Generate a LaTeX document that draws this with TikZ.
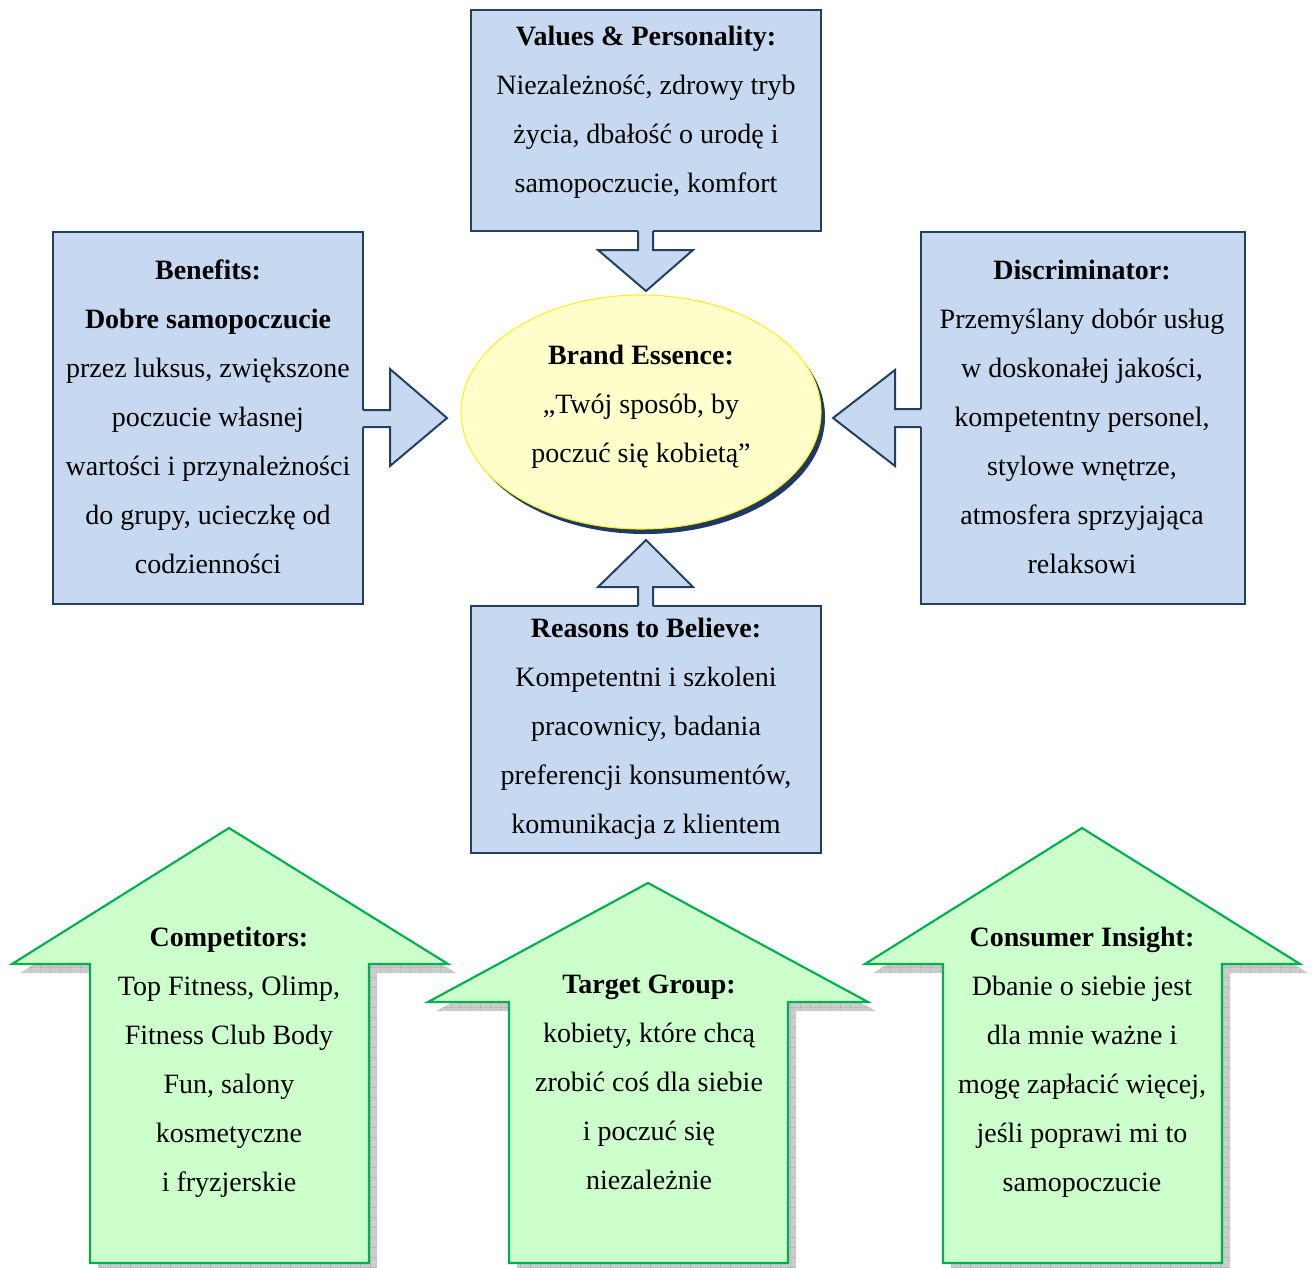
\documentclass[tikz,border=0pt]{standalone}
\usepackage{fontspec}
\setmainfont{Liberation Serif}
\usetikzlibrary{patterns.meta,shapes.geometric}
\definecolor{bluefill}{RGB}{198,217,241}
\definecolor{blueline}{RGB}{36,64,97}
\definecolor{greenfill}{RGB}{204,255,204}
\definecolor{greenline}{RGB}{0,176,80}
\definecolor{ellfill}{RGB}{255,255,204}
\definecolor{ellline}{RGB}{250,240,30}
\definecolor{ellshadow}{RGB}{31,56,100}
\tikzdeclarepattern{
  name=shgrid, type=uncolored,
  bottom left={(0pt,0pt)}, top right={(7.5pt,7.5pt)},
  tile size={(7.5pt,7.5pt)},
  code={\draw[line width=0.8pt] (0pt,0pt)--(7.5pt,0pt) (0pt,0pt)--(0pt,7.5pt);}
}
\begin{document}
\begin{tikzpicture}[x=0.75pt,y=-0.75pt,
  bluebox/.style={draw=blueline,fill=bluefill,line width=1.5pt,inner sep=0pt},
  blueshape/.style={fill=bluefill},
  blueedge/.style={draw=blueline,line width=1.5pt,line join=miter},
  greenshape/.style={draw=greenline,fill=greenfill,line width=1.6pt,line join=miter},
  shadowshape/.style={preaction={fill=gray!40},pattern=shgrid,pattern color=gray!80},
  txt/.style={align=center,inner sep=0pt,font=\fontsize{21pt}{36.75pt}\selectfont}]
\useasboundingbox (0,0) rectangle (1312,1267);

% ---------- blue boxes ----------
\node[bluebox,minimum width=262.5pt,minimum height=165.75pt] (values) at (646,120.5) {};
\node[bluebox,minimum width=232.5pt,minimum height=279pt] (benefits) at (208,418) {};
\node[bluebox,minimum width=243pt,minimum height=279pt] (discr) at (1083,418) {};
\node[bluebox,minimum width=262.5pt,minimum height=185.25pt] (reasons) at (646,729.5) {};

% ---------- blue block arrows ----------
% down arrow from Values
\fill[blueshape] (638,229)--(638,250)--(598,250)--(646,291)--(693,250)--(653,250)--(653,229)--cycle;
\draw[blueedge] (638,231)--(638,250)--(598,250)--(646,291)--(693,250)--(653,250)--(653,231);
% right arrow from Benefits
\fill[blueshape] (361,410)--(390,410)--(390,369)--(447,418)--(390,466)--(390,427)--(361,427)--cycle;
\draw[blueedge] (363,410)--(390,410)--(390,369)--(447,418)--(390,466)--(390,427)--(363,427);
% left arrow from Discriminator
\fill[blueshape] (923,409)--(895,409)--(895,370)--(833,418)--(895,466)--(895,427)--(923,427)--cycle;
\draw[blueedge] (921,409)--(895,409)--(895,370)--(833,418)--(895,466)--(895,427)--(921,427);
% up arrow from Reasons
\fill[blueshape] (638,608)--(638,587)--(598,587)--(646,540)--(693,587)--(653,587)--(653,608)--cycle;
\draw[blueedge] (638,606)--(638,587)--(598,587)--(646,540)--(693,587)--(653,587)--(653,606);

% ---------- ellipse ----------
\node[ellipse,fill=ellshadow,minimum width=270pt,minimum height=175.5pt,inner sep=0pt] (essshadow) at (645,417) {};
\node[ellipse,draw=ellline,fill=ellfill,line width=0.8pt,minimum width=270pt,minimum height=175.5pt,inner sep=0pt] (essence) at (641,412) {};

% ---------- blue texts ----------
\node[txt] (valuestxt) at (646,112.5) {\textbf{Values \& Personality:}\\Niezależność, zdrowy tryb\\życia, dbałość o urodę i\\samopoczucie, komfort};
\node[txt] (benefitstxt) at (208,416.5) {\textbf{Benefits:}\\\textbf{Dobre samopoczucie}\\przez luksus, zwiększone\\poczucie własnej\\wartości i przynależności\\do grupy, ucieczkę od\\codzienności};
\node[txt] (discrtxt) at (1082,416.5) {\textbf{Discriminator:}\\Przemyślany dobór usług\\w doskonałej jakości,\\kompetentny personel,\\stylowe wnętrze,\\atmosfera sprzyjająca\\relaksowi};
\node[txt] (essencetxt) at (641,407) {\textbf{Brand Essence:}\\„Twój sposób, by\\poczuć się kobietą”};
\node[txt] (reasonstxt) at (646,728.5) {\textbf{Reasons to Believe:}\\Kompetentni i szkoleni\\pracownicy, badania\\preferencji konsumentów,\\komunikacja z klientem};

% ---------- green arrows with shadows ----------
\begin{scope}[shift={(8,9)}]
\path[shadowshape] (229,828)--(448,964)--(369,964)--(369,1263)--(90,1263)--(90,964)--(12,964)--cycle;
\path[shadowshape] (648,883)--(868,1002)--(788,1002)--(788,1263)--(509,1263)--(509,1002)--(428,1002)--cycle;
\path[shadowshape] (1082,828)--(1300,964)--(1222,964)--(1222,1263)--(943,1263)--(943,964)--(865,964)--cycle;
\end{scope}
\draw[greenshape] (229,828)--(448,964)--(369,964)--(369,1263)--(90,1263)--(90,964)--(12,964)--cycle;
\draw[greenshape] (648,883)--(868,1002)--(788,1002)--(788,1263)--(509,1263)--(509,1002)--(428,1002)--cycle;
\draw[greenshape] (1082,828)--(1300,964)--(1222,964)--(1222,1263)--(943,1263)--(943,964)--(865,964)--cycle;

\node[txt] (comptxt) at (229,1062.5) {\textbf{Competitors:}\\Top Fitness, Olimp,\\Fitness Club Body\\Fun, salony\\kosmetyczne\\i fryzjerskie};
\node[txt] (targettxt) at (649,1082.5) {\textbf{Target Group:}\\kobiety, które chcą\\zrobić coś dla siebie\\i poczuć się\\niezależnie};
\node[txt] (constxt) at (1082,1062.5) {\textbf{Consumer Insight:}\\Dbanie o siebie jest\\dla mnie ważne i\\mogę zapłacić więcej,\\jeśli poprawi mi to\\samopoczucie};
\end{tikzpicture}
\end{document}
